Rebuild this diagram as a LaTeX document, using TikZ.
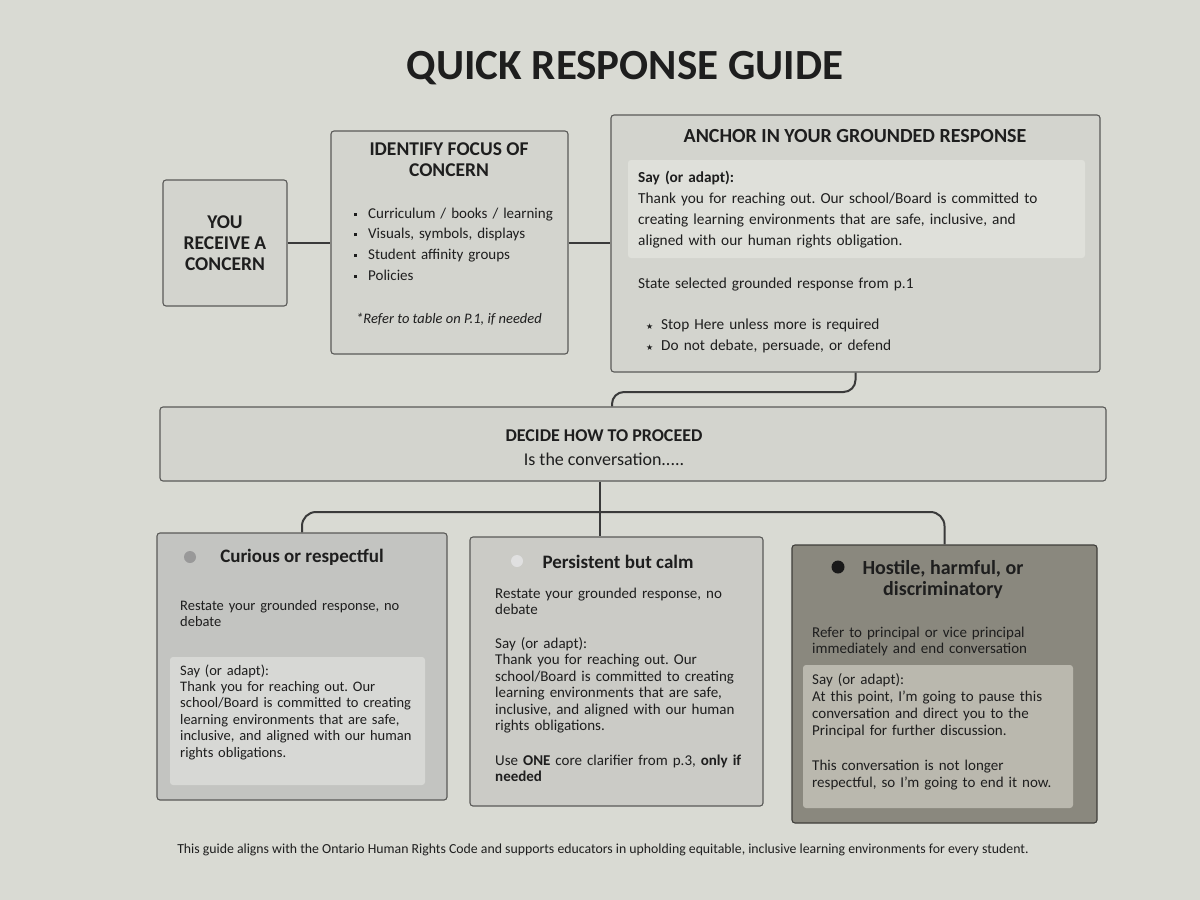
\documentclass[tikz,border=0pt]{standalone}
\usepackage{fontspec}
\setmainfont{Carlito}
\newfontfamily\symfont{DejaVu Sans}
\usetikzlibrary{calc}
\definecolor{pagebg}{HTML}{D9DAD3}
\definecolor{topfill}{HTML}{D3D4CE}
\definecolor{edge}{HTML}{5A5A58}
\definecolor{linec}{HTML}{3A3A3A}
\definecolor{inkc}{HTML}{1E1E1E}
\definecolor{panelA}{HTML}{DFE0DA}
\definecolor{fillone}{HTML}{C3C4C1}
\definecolor{innerone}{HTML}{D7D8D5}
\definecolor{filltwo}{HTML}{CBCBC6}
\definecolor{fillthree}{HTML}{8A887E}
\definecolor{innerthree}{HTML}{BAB8AE}
\definecolor{edgethree}{HTML}{3F3E3A}
\frenchspacing
\begin{document}
\begin{tikzpicture}[x=1pt,y=-1pt,
  box/.style={draw=edge, line width=1.1pt, rounded corners=3pt, fill=topfill, inner sep=0pt},
  panel/.style={rounded corners=3pt, inner sep=0pt},
  conn/.style={draw=linec, line width=2pt},
  head/.style={font=\fontsize{19.5}{21}\selectfont\bfseries, align=center, inner sep=0pt, text=inkc},
  btitle/.style={font=\fontsize{19}{21}\selectfont\bfseries, align=center, inner sep=0pt, text=inkc},
  body/.style={font=\fontsize{15}{16.5}\selectfont, align=left, anchor=base west, inner sep=0pt, text=inkc},
  dot/.style={circle, inner sep=0pt, minimum size=12pt},
]
\fill[pagebg] (0,0) rectangle (1200,900);
\useasboundingbox (0,0) rectangle (1200,900);

% title
\node[font=\fontsize{43}{48}\selectfont\bfseries, text=inkc, inner sep=0pt] (title) at (625,68) {QUICK RESPONSE GUIDE};

% top row boxes
\node[box, minimum width=124pt, minimum height=126pt, head] (you) at (225,243) {YOU\\RECEIVE A\\CONCERN};
\node[box, minimum width=237pt, minimum height=223pt] (focus) at (449.5,242.5) {};
\node[box, minimum width=489pt, minimum height=257pt] (anch) at (855.5,243.5) {};

\node[head] (focush) at (449,159.5) {IDENTIFY FOCUS OF\\CONCERN};
\node[body, font=\fontsize{15}{20.7}\selectfont, text width=210pt] (focusl) at (354,218)
 {\makebox[14pt][l]{\raisebox{2.5pt}{\rule{3pt}{3pt}}}Curriculum / books / learning\\
  \makebox[14pt][l]{\raisebox{2.5pt}{\rule{3pt}{3pt}}}Visuals, symbols, displays\\
  \makebox[14pt][l]{\raisebox{2.5pt}{\rule{3pt}{3pt}}}Student affinity groups\\
  \makebox[14pt][l]{\raisebox{2.5pt}{\rule{3pt}{3pt}}}Policies};
\node[font=\fontsize{14.5}{17}\selectfont\itshape, text=inkc, inner sep=0pt, anchor=base] (focusr) at (449,323) {*Refer to table on P.1, if needed};

\node[head, font=\fontsize{20}{22}\selectfont\bfseries] (anchh) at (855,136) {ANCHOR IN YOUR GROUNDED RESPONSE};
\node[panel, fill=panelA, minimum width=457pt, minimum height=98pt] (anchp) at (856.5,209) {};
\node[body, font=\fontsize{15.3}{21.3}\selectfont, text width=445pt] (anchsay) at (638,182)
 {\textbf{Say (or adapt):}\\
  Thank you for reaching out. Our school/Board is committed to\\
  creating learning environments that are safe, inclusive, and\\
  aligned with our human rights obligation.};
\node[body, font=\fontsize{15.3}{18}\selectfont, text width=440pt] (anchstate) at (638,288) {State selected grounded response from p.1};
\node[body, font=\fontsize{15.3}{21}\selectfont, text width=440pt] (anchstar) at (646,329)
 {\makebox[15pt][l]{\symfont\fontsize{8}{8}\selectfont ★}Stop Here unless more is required\\
  \makebox[15pt][l]{\symfont\fontsize{8}{8}\selectfont ★}Do not debate, persuade, or defend};

% top connectors
\draw[conn] (you.east) -- (you.east -| focus.west);
\draw[conn] (focus.east) -- (focus.east -| anch.west);

% decide box
\node[box, minimum width=946pt, minimum height=74pt] (decide) at (633,444) {};
\node[inner sep=0pt, anchor=base, text=inkc, font=\fontsize{18}{20}\selectfont\bfseries] (decideh) at (604,441) {DECIDE HOW TO PROCEED};
\node[inner sep=0pt, anchor=base, text=inkc, font=\fontsize{18}{20}\selectfont] (decides) at (604,465) {Is the conversation.....};

\coordinate (j1) at (612,392);
\draw[conn, rounded corners=12pt] (anch.south) |- (j1) -- (decide.north -| j1);

% bottom boxes
\node[box, fill=fillone, minimum width=290pt, minimum height=267pt] (b1) at (302,666.5) {};
\node[box, fill=filltwo, minimum width=293pt, minimum height=269pt] (b2) at (616.5,671.5) {};
\node[box, fill=fillthree, draw=edgethree, minimum width=305pt, minimum height=278pt] (b3) at (944.5,684) {};

\coordinate (j2) at (600,512);
\draw[conn, rounded corners=14pt] (b1.north) |- (j2) -| (b3.north);
\draw[conn] (decide.south -| j2) -- (b2.north -| j2);

% box 1
\node[dot, fill=black!40] (d1) at (190,557) {};
\node[btitle] (b1t) at (302,557) {Curious or respectful};
\node[body, font=\fontsize{14.5}{16.5}\selectfont, text width=260pt] (b1a) at (180,610) {Restate your grounded response, no\\debate};
\node[panel, fill=innerone, minimum width=255pt, minimum height=128pt] (b1p) at (297.5,721) {};
\node[body, font=\fontsize{14.5}{16.4}\selectfont, text width=245pt] (b1s) at (180,675)
 {Say (or adapt):\\
  Thank you for reaching out. Our\\
  school/Board is committed to creating\\
  learning environments that are safe,\\
  inclusive, and aligned with our human\\
  rights obligations.};

% box 2
\node[dot, fill=black!12] (d2) at (517,561) {};
\node[btitle] (b2t) at (618,562) {Persistent but calm};
\node[body, text width=265pt] (b2a) at (495,598)
 {Restate your grounded response, no\\debate\\[17pt]
  Say (or adapt):\\
  Thank you for reaching out. Our\\
  school/Board is committed to creating\\
  learning environments that are safe,\\
  inclusive, and aligned with our human\\
  rights obligations.\\[18pt]
  Use \textbf{ONE} core clarifier from p.3, \textbf{only if}\\
  \textbf{needed}};

% box 3
\node[dot, fill=black!90, minimum size=13pt] (d3) at (838,567) {};
\node[btitle, font=\fontsize{20}{21}\selectfont\bfseries] (b3t) at (943,580) {Hostile, harmful, or\\discriminatory};
\node[body, text width=270pt] (b3a) at (812,637) {Refer to principal or vice principal\\immediately and end conversation};
\node[panel, fill=innerthree, minimum width=270pt, minimum height=143pt] (b3p) at (938,736.5) {};
\node[body, font=\fontsize{15}{17}\selectfont, text width=260pt] (b3s) at (812,684)
 {Say (or adapt):\\
  At this point, I'm going to pause this\\
  conversation and direct you to the\\
  Principal for further discussion.\\[18pt]
  This conversation is not longer\\
  respectful, so I'm going to end it now.};

% footer
\node[font=\fontsize{13.8}{15}\selectfont, text=inkc, inner sep=0pt] (foot) at (603,850)
 {This guide aligns with the Ontario Human Rights Code and supports educators in upholding equitable, inclusive learning environments for every student.};
\end{tikzpicture}
\end{document}
